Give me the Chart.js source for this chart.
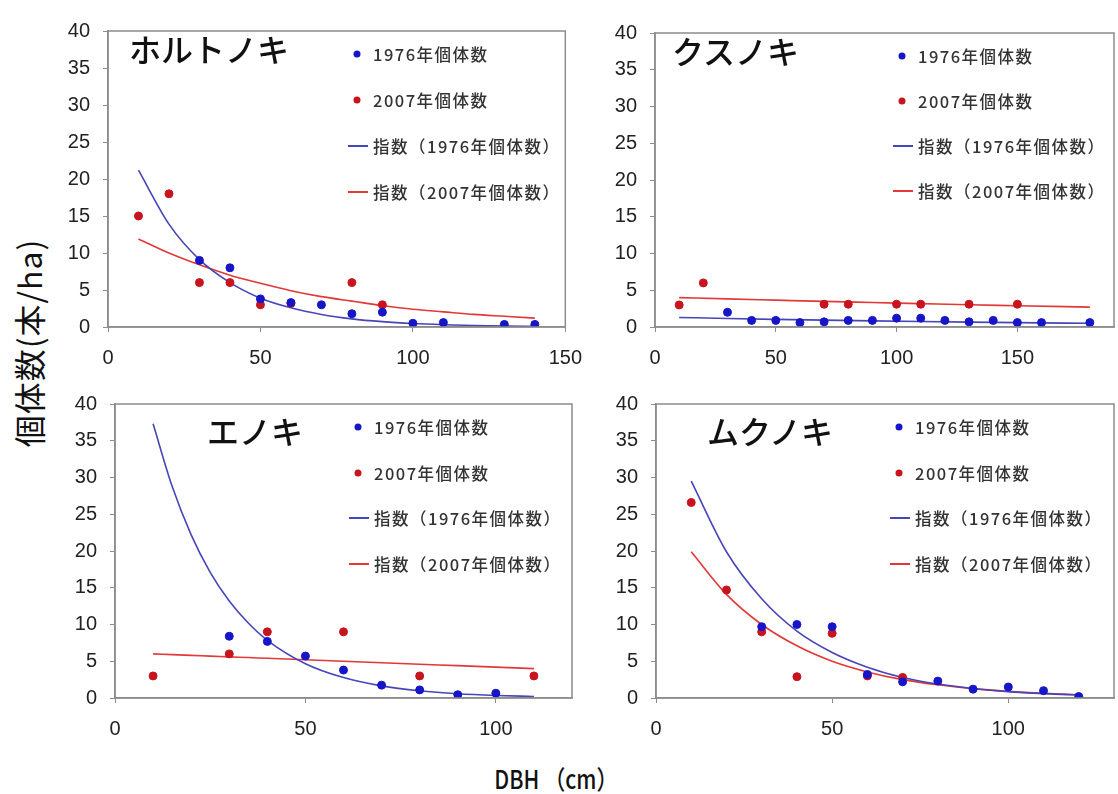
<!DOCTYPE html>
<html lang="ja">
<head>
<meta charset="utf-8">
<script src="https://cdn.jsdelivr.net/npm/chart.js@4.4.1/dist/chart.umd.min.js"></script>
<style>
    html, body { margin: 0; padding: 0; background: #fff; overflow: hidden; }
    body { width: 1118px; height: 794px; position: relative; font-family: "Noto Sans CJK JP", "Noto Sans", sans-serif; }
    canvas { position: absolute; }
    .title { position: absolute; font-size: 32px; font-weight: 500; color: #111; line-height: 1; white-space: nowrap; transform: translateY(-50%); }
    .leg { position: absolute; font-size: 16.5px; font-weight: 500; letter-spacing: 1.5px; color: #333; white-space: nowrap; line-height: 1; transform: translateY(-50%); }
    .dot { position: absolute; width: 7px; height: 7px; border-radius: 50%; transform: translate(-50%, -50%); }
    .seg { position: absolute; width: 20px; height: 2px; transform: translateY(-50%); }
    #ytitle { position: absolute; left: 28px; top: 343px; font-size: 32px; letter-spacing: 1px; color: #111; white-space: nowrap; transform: translate(-50%, -50%) rotate(-90deg); }
    #xtitle { position: absolute; left: 556px; top: 777px; font-size: 26px; font-weight: 500; color: #111; white-space: nowrap; transform: translate(-50%, -50%) scaleX(0.82); }
</style>
</head>
<body>
<div id="ytitle">個体数(本/ha)</div>
<div id="xtitle">DBH （cm）</div>
<script>
// ホルトノキ
const horutoX1976 = [30, 40, 50, 60, 70, 80, 90, 100, 110, 130, 140];
const horutoY1976 = [9, 8, 3.8, 3.3, 3.0, 1.8, 2.0, 0.5, 0.6, 0.35, 0.35];
const horutoX2007 = [10, 20, 30, 40, 50, 60, 80, 90];
const horutoY2007 = [15, 18, 6, 6, 3, 3.2, 6, 3];
const horutoTrendX = [10, 20, 30, 40, 50, 60, 70, 80, 90, 100, 110, 120, 130, 140];
const horutoTrend1976 = [21.2, 13.9, 9.1, 6.0, 3.9, 2.6, 1.7, 1.1, 0.72, 0.47, 0.31, 0.2, 0.13, 0.09];
const horutoTrend2007 = [11.9, 10.0, 8.4, 7.0, 5.9, 4.9, 4.1, 3.5, 2.9, 2.4, 2.05, 1.7, 1.45, 1.2];

// クスノキ
const kusuX1976 = [30, 40, 50, 60, 70, 80, 90, 100, 110, 120, 130, 140, 150, 160, 180];
const kusuY1976 = [2, 0.9, 0.9, 0.6, 0.7, 0.9, 0.9, 1.2, 1.2, 0.9, 0.7, 0.9, 0.6, 0.6, 0.6];
const kusuX2007 = [10, 20, 70, 80, 100, 110, 130, 150];
const kusuY2007 = [3, 6, 3.1, 3.1, 3.1, 3.1, 3.1, 3.1];
const kusuTrendX = [10, 30, 50, 70, 90, 110, 130, 150, 180];
const kusuTrend1976 = [1.3, 1.16, 1.04, 0.93, 0.83, 0.74, 0.66, 0.59, 0.5];
const kusuTrend2007 = [4.0, 3.82, 3.65, 3.48, 3.33, 3.18, 3.03, 2.9, 2.7];

// エノキ
const enoX1976 = [30, 40, 50, 60, 70, 80, 90, 100];
const enoY1976 = [8.4, 7.7, 5.7, 3.8, 1.75, 1.1, 0.45, 0.65];
const enoX2007 = [10, 30, 40, 60, 80, 110];
const enoY2007 = [3, 6, 9, 9, 3, 3];
const enoTrendX = [10, 15, 20, 25, 30, 35, 40, 50, 60, 70, 80, 90, 100, 110];
const enoTrend1976 = [37.3, 28.8, 22.2, 17.1, 13.2, 10.2, 7.85, 4.67, 2.78, 1.65, 0.98, 0.58, 0.35, 0.21];
const enoTrend2007 = [6.0, 5.9, 5.8, 5.7, 5.6, 5.5, 5.4, 5.2, 5.0, 4.8, 4.6, 4.4, 4.2, 4.0];

// ムクノキ
const mukuX1976 = [30, 40, 50, 60, 70, 80, 90, 100, 110, 120];
const mukuY1976 = [9.7, 10, 9.7, 3.2, 2.2, 2.3, 1.2, 1.5, 1.0, 0.2];
const mukuX2007 = [10, 20, 30, 40, 50, 60, 70];
const mukuY2007 = [26.6, 14.7, 9.0, 2.9, 8.8, 3.0, 2.8];
const mukuTrendX = [10, 20, 30, 40, 50, 60, 70, 80, 90, 100, 110, 120];
const mukuTrend1976 = [29.5, 19.9, 13.5, 9.1, 6.2, 4.2, 2.8, 1.9, 1.3, 0.87, 0.59, 0.4];
const mukuTrend2007 = [19.9, 14.1, 10.0, 7.1, 5.0, 3.55, 2.5, 1.8, 1.27, 0.9, 0.64, 0.45];

const seriesLabels = ['1976年個体数', '2007年個体数', '指数（1976年個体数）', '指数（2007年個体数）'];
const yTicksMax = 40;
const yTickStep = 5;
const xTickStep = 50;

const BLUE_PT = '#1616c8';
const RED_PT = '#c8141e';
const BLUE_LN = '#4646b8';
const RED_LN = '#e23838';

// plot area of each panel in page pixels, plus title / legend placement
const panels = [
    { name: 'ホルトノキ', xMax: 150, box: [108, 20, 570, 327], title: [129, 48], leg: [357, 54, 46],
      x76: horutoX1976, y76: horutoY1976, x07: horutoX2007, y07: horutoY2007, tx: horutoTrendX, t76: horutoTrend1976, t07: horutoTrend2007 },
    { name: 'クスノキ', xMax: 190, box: [655, 22, 1114, 327], title: [672, 50], leg: [902, 56, 45],
      x76: kusuX1976, y76: kusuY1976, x07: kusuX2007, y07: kusuY2007, tx: kusuTrendX, t76: kusuTrend1976, t07: kusuTrend2007 },
    { name: 'エノキ', xMax: 120, box: [115, 393, 572, 698], title: [207, 430], leg: [358, 427, 45.5],
      x76: enoX1976, y76: enoY1976, x07: enoX2007, y07: enoY2007, tx: enoTrendX, t76: enoTrend1976, t07: enoTrend2007 },
    { name: 'ムクノキ', xMax: 130, box: [656, 393, 1114, 698], title: [707, 430], leg: [899, 427, 45.5],
      x76: mukuX1976, y76: mukuY1976, x07: mukuX2007, y07: mukuY2007, tx: mukuTrendX, t76: mukuTrend1976, t07: mukuTrend2007 },
];

const Y_AXIS_W = 60, X_AXIS_H = 50, PAD_TOP = 14, PAD_RIGHT = 26;

function toPoints(xs, ys) {
    return xs.map((x, i) => ({ x: x, y: ys[i] }));
}

// box around the plot area
const framePlugin = {
    id: 'frame',
    afterDraw(chart) {
        const a = chart.chartArea;
        const ctx = chart.ctx;
        ctx.save();
        ctx.strokeStyle = '#8c8c8c';
        ctx.lineWidth = 1.5;
        ctx.strokeRect(a.left, a.top, a.right - a.left, a.bottom - a.top);
        ctx.restore();
    }
};

function addDiv(cls, left, top, text, style) {
    const d = document.createElement('div');
    d.className = cls;
    d.style.left = left + 'px';
    d.style.top = top + 'px';
    if (text) d.textContent = text;
    if (style) Object.assign(d.style, style);
    document.body.appendChild(d);
    return d;
}

panels.forEach((p) => {
    const [l, t, r, b] = p.box;
    const canvas = document.createElement('canvas');
    const w = (r - l) + Y_AXIS_W + PAD_RIGHT;
    const h = (b - t) + PAD_TOP + X_AXIS_H;
    canvas.width = w;
    canvas.height = h;
    canvas.style.left = (l - Y_AXIS_W) + 'px';
    canvas.style.top = (t - PAD_TOP) + 'px';
    document.body.appendChild(canvas);

    const tickFont = { family: '"Liberation Sans", Arial, sans-serif', size: 20 };
    const trendStyle = { showLine: true, pointRadius: 0, borderWidth: 1.6, cubicInterpolationMode: 'monotone', fill: false };

    new Chart(canvas.getContext('2d'), {
        type: 'scatter',
        data: {
            datasets: [
                { label: seriesLabels[0], data: toPoints(p.x76, p.y76), pointRadius: 4, pointBackgroundColor: BLUE_PT, pointBorderColor: BLUE_PT, showLine: false },
                { label: seriesLabels[1], data: toPoints(p.x07, p.y07), pointRadius: 4, pointBackgroundColor: RED_PT, pointBorderColor: RED_PT, showLine: false },
                { label: seriesLabels[2], data: toPoints(p.tx, p.t76), borderColor: BLUE_LN, ...trendStyle },
                { label: seriesLabels[3], data: toPoints(p.tx, p.t07), borderColor: RED_LN, ...trendStyle },
            ],
        },
        options: {
            responsive: false,
            animation: false,
            devicePixelRatio: 1,
            layout: { padding: { top: PAD_TOP, right: PAD_RIGHT, left: 0, bottom: 0 } },
            plugins: { legend: { display: false }, tooltip: { enabled: false } },
            scales: {
                x: {
                    type: 'linear', min: 0, max: p.xMax,
                    afterBuildTicks: (s) => { s.ticks = s.ticks.filter((tk) => tk.value % xTickStep === 0); },
                    ticks: { stepSize: xTickStep, color: '#222', font: tickFont, padding: 14, maxRotation: 0 },
                    grid: { drawOnChartArea: false, drawTicks: true, tickLength: 5, color: '#8c8c8c' },
                    border: { color: '#8c8c8c', width: 1.5 },
                    afterFit: (s) => { s.height = X_AXIS_H; },
                },
                y: {
                    min: 0, max: yTicksMax,
                    ticks: { stepSize: yTickStep, color: '#222', font: tickFont, padding: 13 },
                    grid: { drawOnChartArea: false, drawTicks: true, tickLength: 5, color: '#8c8c8c' },
                    border: { color: '#8c8c8c', width: 1.5 },
                    afterFit: (s) => { s.width = Y_AXIS_W; },
                },
            },
        },
        plugins: [framePlugin],
    });

    addDiv('title', p.title[0], p.title[1], p.name);

    const [lx, ly, gap] = p.leg;
    const markers = [['dot', BLUE_PT], ['dot', RED_PT], ['seg', BLUE_LN], ['seg', RED_LN]];
    seriesLabels.forEach((lab, i) => {
        const y = ly + i * gap;
        const [kind, col] = markers[i];
        if (kind === 'dot') {
            addDiv('dot', lx, y, '', { background: col });
        } else {
            addDiv('seg', lx - 9, y, '', { background: col });
        }
        addDiv('leg', lx + 16, y, lab);
    });
});
</script>
</body>
</html>
